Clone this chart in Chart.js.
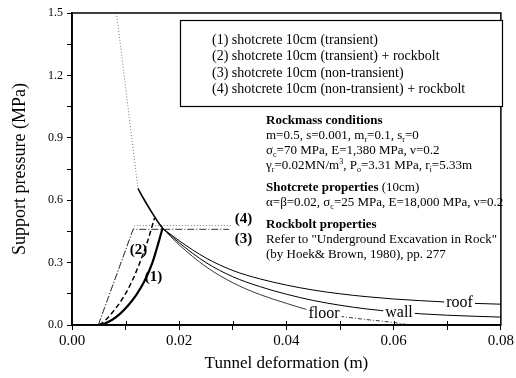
<!DOCTYPE html>
<html><head><meta charset="utf-8">
<script src="https://cdn.jsdelivr.net/npm/chart.js@4.4.0/dist/chart.umd.min.js"></script>
<style>html,body{margin:0;padding:0;background:#fff;}#wrap{width:516px;height:378px;}</style>
</head><body><div id="wrap"><canvas id="c" width="516" height="378"></canvas></div>
<script>
// ---------- data ----------
const grcElasticX = [0.0083, 0.0123];
const grcElasticY = [1.5, 0.657];
const grcCommonX = [0.0123, 0.0135, 0.0148, 0.016, 0.0169];
const grcCommonY = [0.657, 0.601, 0.545, 0.497, 0.465];
const roofX = [0.0169, 0.02, 0.025, 0.03, 0.035, 0.04, 0.045, 0.05, 0.055, 0.06, 0.065, 0.07, 0.075, 0.08];
const roofY = [0.465, 0.405, 0.322, 0.262, 0.222, 0.192, 0.168, 0.15, 0.136, 0.125, 0.117, 0.11, 0.104, 0.1];
const wallX = [0.0169, 0.02, 0.025, 0.03, 0.035, 0.04, 0.045, 0.05, 0.055, 0.06, 0.065, 0.07, 0.075, 0.08];
const wallY = [0.465, 0.395, 0.3, 0.232, 0.185, 0.148, 0.118, 0.095, 0.077, 0.064, 0.054, 0.047, 0.042, 0.038];
const floorX = [0.0169, 0.02, 0.025, 0.03, 0.035, 0.04, 0.045, 0.05, 0.055, 0.06, 0.063];
const floorY = [0.465, 0.385, 0.28, 0.203, 0.147, 0.104, 0.066, 0.042, 0.026, 0.012, 0];
const s1X = [0.0049, 0.006, 0.0075, 0.009, 0.0105, 0.012, 0.0135, 0.015, 0.0169];
const s1Y = [0, 0.006, 0.025, 0.055, 0.095, 0.145, 0.21, 0.3, 0.465];
const s2X = [0.0051, 0.0065, 0.008, 0.0095, 0.011, 0.0125, 0.014, 0.0154];
const s2Y = [0, 0.03, 0.075, 0.13, 0.2, 0.29, 0.395, 0.515];
const s3X = [0.0049, 0.0114, 0.0293];
const s3Y = [0, 0.46, 0.46];
const s4X = [0.0049, 0.0117, 0.0297];
const s4Y = [0, 0.478, 0.478];
const curveLabels = ['roof', 'wall', 'floor'];
const curveLabelX = [0.0723, 0.061, 0.047];
const curveLabelY = [0.108, 0.06, 0.052];
const supportLabels = ['(1)', '(2)', '(3)', '(4)'];
const supportLabelX = [0.0152, 0.0124, 0.032, 0.032];
const supportLabelY = [0.231, 0.36, 0.415, 0.51];
const xTickLabels = ['0.00', '0.02', '0.04', '0.06', '0.08'];
const yTickLabels = ['0.0', '0.3', '0.6', '0.9', '1.2', '1.5'];
const legendRows = [
  '(1) shotcrete 10cm (transient)',
  '(2) shotcrete 10cm (transient) + rockbolt',
  '(3) shotcrete 10cm (non-transient)',
  '(4) shotcrete 10cm (non-transient) + rockbolt'
];
const infoLines = [
  {bold: true, parts: ['Rockmass conditions']},
  {parts: ['m=0.5, s=0.001, m', {sub: 'r'}, '=0.1, s', {sub: 'r'}, '=0']},
  {parts: ['σ', {sub: 'c'}, '=70 MPa, E=1,380 MPa, ν=0.2']},
  {parts: ['γ', {sub: 'r'}, '=0.02MN/m', {sup: '3'}, ', P', {sub: 'o'}, '=3.31 MPa, r', {sub: 'i'}, '=5.33m']},
  {gap: true, parts: [{b: 'Shotcrete properties'}, ' (10cm)']},
  {parts: ['α=β=0.02, σ', {sub: 'c'}, '=25 MPa, E=18,000 MPa, ν=0.2']},
  {gap: true, bold: true, parts: ['Rockbolt properties']},
  {parts: ['Refer to "Underground Excavation in Rock"']},
  {parts: ['(by Hoek& Brown, 1980), pp. 277']}
];

const pts = (xs, ys) => xs.map((x, i) => ({x: x, y: ys[i]}));
const SERIF = '"Liberation Serif", "DejaVu Serif", serif';

Chart.defaults.font.family = SERIF;
Chart.defaults.color = '#000';

function drawParts(ctx, x, y, parts, size, bold) {
  let cx = x;
  for (const p of parts) {
    if (typeof p === 'string' || p.b) {
      const t = typeof p === 'string' ? p : p.b;
      ctx.font = ((bold || p.b) ? 'bold ' : '') + size + 'px ' + SERIF;
      ctx.fillText(t, cx, y);
      cx += ctx.measureText(t).width;
    } else if (p.sub) {
      ctx.font = Math.round(size * 0.62) + 'px ' + SERIF;
      ctx.fillText(p.sub, cx, y + size * 0.28);
      cx += ctx.measureText(p.sub).width;
    } else if (p.sup) {
      ctx.font = Math.round(size * 0.62) + 'px ' + SERIF;
      ctx.fillText(p.sup, cx, y - size * 0.35);
      cx += ctx.measureText(p.sup).width;
    }
  }
}

const decor = {
  id: 'decor',
  afterDraw(chart) {
    const ctx = chart.ctx, a = chart.chartArea;
    const xs = chart.scales.x, ys = chart.scales.y;
    ctx.save();
    // frame
    ctx.strokeStyle = '#000'; ctx.lineWidth = 1.5;
    ctx.strokeRect(a.left, a.top, a.right - a.left, a.bottom - a.top);
    // inward ticks on x axis
    ctx.lineWidth = 1;
    for (let i = 1; i < 8; i++) {
      const px = Math.round(xs.getPixelForValue(i * 0.01)) + 0.5;
      ctx.beginPath(); ctx.moveTo(px, a.bottom); ctx.lineTo(px, a.bottom - 4); ctx.stroke();
    }
    // curve labels with white background
    ctx.textBaseline = 'middle'; ctx.textAlign = 'center';
    ctx.font = '16px ' + SERIF;
    curveLabels.forEach((t, i) => {
      const px = xs.getPixelForValue(curveLabelX[i]), py = ys.getPixelForValue(curveLabelY[i]);
      const w = ctx.measureText(t).width + 4;
      ctx.fillStyle = '#fff'; ctx.fillRect(px - w / 2, py - 6, w, 12);
      ctx.fillStyle = '#000'; ctx.fillText(t, px, py);
    });
    ctx.font = 'bold 15px ' + SERIF;
    supportLabels.forEach((t, i) => {
      const px = xs.getPixelForValue(supportLabelX[i]), py = ys.getPixelForValue(supportLabelY[i]);
      ctx.fillText(t, px, py);
    });
    // legend box
    ctx.textAlign = 'left';
    ctx.fillStyle = '#fff';
    ctx.fillRect(180, 20, 322, 86);
    ctx.strokeStyle = '#000'; ctx.lineWidth = 1.2;
    ctx.strokeRect(180.5, 20.5, 322, 86);
    ctx.fillStyle = '#000';
    ctx.font = '14px ' + SERIF;
    legendRows.forEach((t, i) => ctx.fillText(t, 212, 40 + i * 16.6));
    // info block
    let y = 121;
    infoLines.forEach((l, i) => {
      if (i > 0) y += l.gap ? 22 : 15;
      drawParts(ctx, 266, y, l.parts, 13, l.bold);
    });
    ctx.restore();
  }
};

new Chart(document.getElementById('c'), {
  type: 'line',
  data: {
    datasets: [
      {data: pts(grcElasticX, grcElasticY), borderColor: '#777', borderWidth: 1, borderDash: [1, 2], tension: 0},
      {data: pts(grcCommonX, grcCommonY), borderColor: '#000', borderWidth: 1.6, cubicInterpolationMode: 'monotone'},
      {data: pts(roofX, roofY), borderColor: '#000', borderWidth: 1, cubicInterpolationMode: 'monotone'},
      {data: pts(wallX, wallY), borderColor: '#000', borderWidth: 1, cubicInterpolationMode: 'monotone'},
      {data: pts(floorX, floorY), borderColor: '#222', borderWidth: 0.9, cubicInterpolationMode: 'monotone',
        segment: {borderDash: c => c.p0.parsed.x >= 0.049 ? [4, 2, 1, 2] : undefined}},
      {data: pts(s1X, s1Y), borderColor: '#000', borderWidth: 2.2, cubicInterpolationMode: 'monotone'},
      {data: pts(s2X, s2Y), borderColor: '#000', borderWidth: 1.5, borderDash: [5, 3], cubicInterpolationMode: 'monotone'},
      {data: pts(s3X, s3Y), borderColor: '#333', borderWidth: 1, borderDash: [7, 2, 1, 2], tension: 0},
      {data: pts(s4X, s4Y), borderColor: '#777', borderWidth: 1, borderDash: [1, 2], tension: 0}
    ]
  },
  options: {
    responsive: false, animation: false, devicePixelRatio: 1,
    parsing: true,
    elements: {point: {radius: 0}},
    plugins: {legend: {display: false}, tooltip: {enabled: false}},
    layout: {padding: {top: 13, right: 11, left: 0, bottom: 0}},
    scales: {
      x: {
        type: 'linear', min: 0, max: 0.08,
        afterFit: s => { s.height = 53; },
        border: {color: '#000', width: 1.8},
        grid: {drawOnChartArea: false, tickLength: 5, color: '#000'},
        ticks: {
          stepSize: 0.01, autoSkip: false, maxRotation: 0, padding: 2,
          font: {size: 15, family: SERIF},
          callback: v => { const k = Math.round(v * 100); return k % 2 === 0 ? xTickLabels[k / 2] : ''; }
        },
        title: {display: true, text: 'Tunnel deformation (m)', font: {size: 17, family: SERIF}, padding: {top: 5}}
      },
      y: {
        type: 'linear', min: 0, max: 1.5,
        afterFit: s => { s.width = 72; },
        border: {color: '#000', width: 1.8},
        grid: {drawOnChartArea: false, tickLength: 5, color: '#000'},
        ticks: {
          stepSize: 0.15, autoSkip: false, padding: 4,
          font: {size: 12, family: SERIF},
          callback: v => { const k = Math.round(v / 0.15); return k % 2 === 0 ? yTickLabels[k / 2] : ''; }
        },
        title: {display: true, text: 'Support pressure (MPa)', font: {size: 18, family: SERIF}, padding: {top: 9, bottom: 4}}
      }
    }
  },
  plugins: [decor]
});
</script></body></html>
